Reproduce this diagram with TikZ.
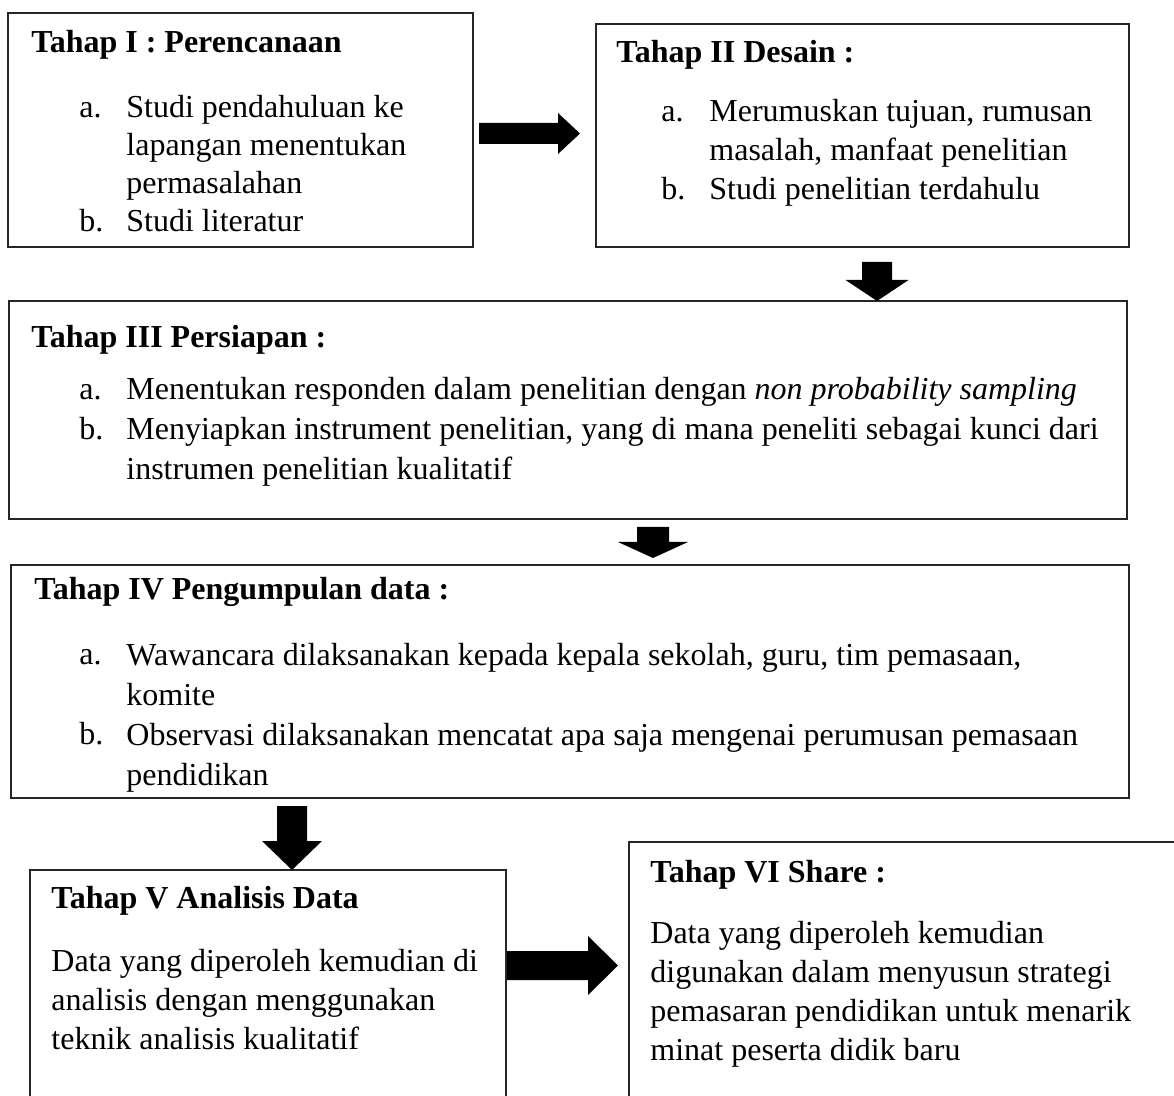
\documentclass[tikz,border=0pt]{standalone}
\usepackage{fontspec}
\setmainfont{Liberation Serif}
\usetikzlibrary{calc,fit}
\tikzset{
  box/.style={draw=black!85, line width=0.75pt, inner sep=0pt, rectangle},
  ttl/.style={anchor=base west, inner sep=0pt, font=\fontsize{16}{19.5}\selectfont\bfseries},
  txt/.style={anchor=base west, inner sep=0pt, align=left, font=\fontsize{16}{19.5}\selectfont},
  lbl/.style={anchor=base west, inner sep=0pt, font=\fontsize{16}{19.5}\selectfont},
}
\newcommand\blockarrow[5]{%
  \path ($(#2)!#5!(#1)$) coordinate (bah);
  \fill[black] ($(#1)!#3!90:(#2)$) -- ($(bah)!#3!90:(#2)$) -- ($(bah)!#4!90:(#2)$) -- (#2)
     -- ($(bah)!#4!-90:(#2)$) -- ($(bah)!#3!-90:(#2)$) -- ($(#1)!#3!-90:(#2)$) -- cycle;}
\begin{document}
\begin{tikzpicture}[x=0.5pt,y=-0.5pt]
\useasboundingbox (0,0) rectangle (1174,1096);
\clip (0,0) rectangle (1174,1096);
\fill[white] (0,0) rectangle (1174,1096);

% boxes
\node[box, fit={(8,13) (473,247)}] (b1) {};
\node[box, fit={(596,24) (1129,247)}] (b2) {};
\node[box, fit={(9,301) (1127,519)}] (b3) {};
\node[box, fit={(11,565) (1129,798)}] (b4) {};
\node[box, fit={(30,870) (506,1120)}] (b5) {};
\node[box, fit={(629,842) (1200,1120)}] (b6) {};

% Note: multi-line text nodes are anchored at the baseline of their last line.
% Tahap I
\node[ttl] (t1) at (31,53) {Tahap I : Perencanaan};
\node[lbl] (t1a) at (79,118) {a.};
\node[txt, font=\fontsize{16}{19}\selectfont] (t1at) at (126,194) {Studi pendahuluan ke\\lapangan menentukan\\permasalahan};
\node[lbl] (t1b) at (79,232) {b.};
\node[txt] (t1bt) at (126,232) {Studi literatur};

% Tahap II
\node[ttl] (t2) at (616,63) {Tahap II Desain :};
\node[lbl] (t2a) at (661,122) {a.};
\node[txt] (t2at) at (709,161) {Merumuskan tujuan, rumusan\\masalah, manfaat penelitian};
\node[lbl] (t2b) at (661,200) {b.};
\node[txt] (t2bt) at (709,200) {Studi penelitian terdahulu};

% Tahap III
\node[ttl] (t3) at (31,348) {Tahap III Persiapan :};
\node[lbl] (t3a) at (79,400) {a.};
\node[txt] (t3at) at (126,400) {Menentukan responden dalam penelitian dengan \textit{non probability sampling}};
\node[lbl] (t3b) at (79,440) {b.};
\node[txt, font=\fontsize{16}{20}\selectfont] (t3bt) at (126,480) {Menyiapkan instrument penelitian, yang di mana peneliti sebagai kunci dari\\instrumen penelitian kualitatif};

% Tahap IV
\node[ttl] (t4) at (34,600) {Tahap IV Pengumpulan data :};
\node[lbl] (t4a) at (79,665) {a.};
\node[txt, font=\fontsize{16}{20}\selectfont] (t4at) at (126,705) {Wawancara dilaksanakan kepada kepala sekolah, guru, tim pemasaan,\\komite};
\node[lbl] (t4b) at (79,745) {b.};
\node[txt, font=\fontsize{16}{20}\selectfont] (t4bt) at (126,785) {Observasi dilaksanakan mencatat apa saja mengenai perumusan pemasaan\\pendidikan};

% Tahap V
\node[ttl] (t5) at (51,908) {Tahap V Analisis Data};
\node[txt] (t5t) at (51,1049) {Data yang diperoleh kemudian di\\analisis dengan menggunakan\\teknik analisis kualitatif};

% Tahap VI
\node[ttl] (t6) at (650,882) {Tahap VI Share :};
\node[txt] (t6t) at (650,1060) {Data yang diperoleh kemudian\\digunakan dalam menyusun strategi\\pemasaran pendidikan untuk menarik\\minat peserta didik baru};

% block arrows
\coordinate (a1s) at (479,133.5); \coordinate (a1t) at (580,133.5);
\coordinate (a2s) at (877,262);   \coordinate (a2t) at (877,301);
\coordinate (a3s) at (653,527);   \coordinate (a3t) at (653,558);
\coordinate (a4s) at (292,806);   \coordinate (a4t) at (292,870);
\coordinate (a5s) at (507,965.5); \coordinate (a5t) at (618,965.5);
\blockarrow{a1s}{a1t}{5.25pt}{10.25pt}{11pt}
\blockarrow{a2s}{a2t}{7.5pt}{15.75pt}{10.5pt}
\blockarrow{a3s}{a3t}{8pt}{17.5pt}{8pt}
\blockarrow{a4s}{a4t}{7.5pt}{15pt}{14.5pt}
\blockarrow{a5s}{a5t}{7.25pt}{14.75pt}{15pt}
\end{tikzpicture}
\end{document}
